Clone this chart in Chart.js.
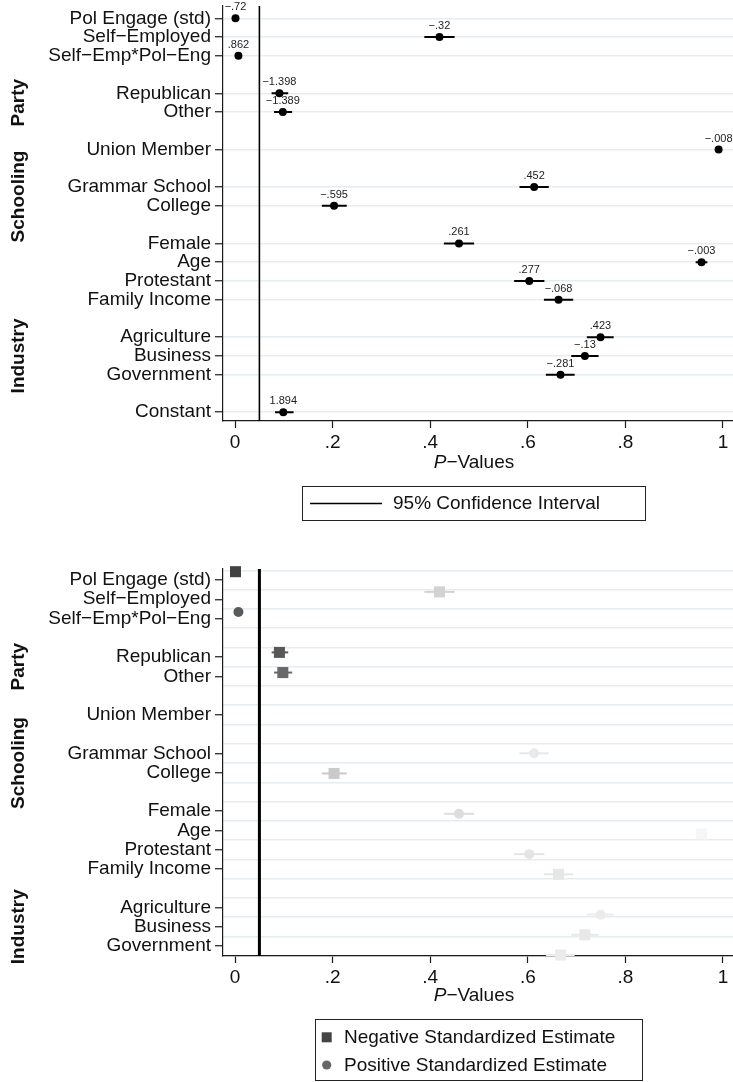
<!DOCTYPE html>
<html>
<head>
<meta charset="utf-8">
<script src="https://cdn.jsdelivr.net/npm/chart.js@4.4.1/dist/chart.umd.min.js"></script>
<style>
html,body{margin:0;padding:0;background:#fff;overflow:hidden;width:733px;height:1082px}
#w1{position:absolute;left:0;top:0;width:733px;height:540px}
#w2{position:absolute;left:0;top:540px;width:733px;height:542px}
canvas{display:block}
</style>
</head>
<body>
<div id="w1"><canvas id="c1" width="733" height="540"></canvas></div>
<div id="w2"><canvas id="c2" width="733" height="542"></canvas></div>
<script>
// ---------------- DATA ----------------
const categories = ['Pol Engage (std)','Self\u2212Employed','Self\u2212Emp*Pol\u2212Eng','','Republican','Other','','Union Member','','Grammar School','College','','Female','Age','Protestant','Family Income','','Agriculture','Business','Government','','Constant'];
const variables = ['Pol Engage (std)','Self\u2212Employed','Self\u2212Emp*Pol\u2212Eng','Republican','Other','Union Member','Grammar School','College','Female','Age','Protestant','Family Income','Agriculture','Business','Government','Constant'];
const pValues   = [0.001, 0.419, 0.007, 0.091, 0.098, 0.991, 0.613, 0.203, 0.459, 0.956, 0.603, 0.663, 0.749, 0.717, 0.667, 0.099];
const ciLow     = [0.000, 0.388, 0.005, 0.075, 0.080, 0.989, 0.583, 0.178, 0.428, 0.944, 0.572, 0.633, 0.721, 0.689, 0.637, 0.082];
const ciHigh    = [0.002, 0.450, 0.009, 0.109, 0.117, 0.993, 0.643, 0.229, 0.490, 0.968, 0.634, 0.693, 0.776, 0.745, 0.696, 0.120];
const estimates = [-0.72, -0.32, 0.862, -1.398, -1.389, -0.008, 0.452, -0.595, 0.261, -0.003, 0.277, -0.068, 0.423, -0.13, -0.281, 1.894];
const xTickValues = [0, 0.2, 0.4, 0.6, 0.8, 1];
const xTickLabels = ['0', '.2', '.4', '.6', '.8', '1'];
const groupNames = ['Party', 'Schooling', 'Industry'];
const groupMembers = [['Republican','Other'], ['Grammar School','College'], ['Agriculture','Business','Government']];
const refLine = [0.05];
const bottomVariables = variables.filter(v => v !== 'Constant');
const bottomCategories = categories.slice(0, categories.indexOf('Constant') - 1);

// ---------------- STYLE ----------------
const bottomShades = ['#424242','#d2d2d2','#5a5a5a','#585858','#686868','#ffffff','#e9e9e9','#cacaca','#dddddd','#f6f6f6','#e4e4e4','#e6e6e6','#ebebeb','#e8e8e8','#ebebeb'];
const GRID = '#e6edf1';
const AXIS = '#1a1a1a';
const TXT = '#111111';
const FONT = '"Liberation Sans", Arial, Helvetica, sans-serif';
const X_MIN = -0.0246, X_MAX = 1.0205;
const TOP_Y = [-0.656, 21.47];
const BOT_Y = [-0.571, 19.52];
const BOT_Y2 = [-0.134, 19.05];

Chart.defaults.font.family = FONT;
Chart.defaults.color = TXT;
Chart.defaults.animation = false;

const rowOf = (name, cats) => cats.indexOf(name);
function fmtEst(v) {
  let s = String(Math.abs(v));
  if (s[0] === '0') s = s.slice(1);
  return (v < 0 ? '\u2212' : '') + s;
}
function ciPoints(names, cats) {
  const pts = [];
  names.forEach((n, i) => {
    const r = rowOf(n, cats);
    pts.push({x: ciLow[i], y: r}, {x: ciHigh[i], y: r}, {x: null, y: null});
  });
  return pts;
}
function xScaleOpts(h) {
  return {
    type: 'linear', min: X_MIN, max: X_MAX,
    afterBuildTicks: s => { s.ticks = xTickValues.map(v => ({value: v})); },
    ticks: { autoSkip: false, maxRotation: 0, minRotation: 0, padding: 3, color: TXT, font: {size: 19},
      callback: v => xTickLabels[xTickValues.indexOf(v)] },
    grid: { drawOnChartArea: false, drawTicks: true, tickLength: 7, tickColor: AXIS, tickWidth: 1.2 },
    border: { display: true, color: AXIS, width: 1.2 },
    afterFit: s => { s.height = h; s.paddingLeft = 0; s.paddingRight = 0; }
  };
}
function drawXTitle(chart, cx, cy) {
  const ctx = chart.ctx;
  ctx.save();
  ctx.fillStyle = TXT; ctx.textBaseline = 'middle'; ctx.textAlign = 'left';
  const fi = 'italic 19px ' + FONT, fn = '19px ' + FONT;
  ctx.font = fi; const w1 = ctx.measureText('P').width;
  ctx.font = fn; const w2 = ctx.measureText('\u2212Values').width;
  const x = cx - (w1 + w2) / 2;
  ctx.font = fi; ctx.fillText('P', x, cy);
  ctx.font = fn; ctx.fillText('\u2212Values', x + w1, cy);
  ctx.restore();
}
function drawGroups(chart, scaleId, cats) {
  const sc = chart.scales[scaleId];
  const ctx = chart.ctx;
  ctx.save();
  ctx.font = 'bold 19px ' + FONT; ctx.fillStyle = TXT; ctx.textAlign = 'center'; ctx.textBaseline = 'middle';
  groupNames.forEach((g, k) => {
    const ys = groupMembers[k].map(n => sc.getPixelForValue(rowOf(n, cats)));
    const y = ys.reduce((a, b) => a + b, 0) / ys.length;
    ctx.save(); ctx.translate(19, y); ctx.rotate(-Math.PI / 2); ctx.fillText(g, 0, 0); ctx.restore();
  });
  ctx.restore();
}

// ---------------- TOP CHART ----------------
new Chart(document.getElementById('c1'), {
  type: 'scatter',
  data: {
    datasets: [
      { label: 'P-values', data: variables.map((n, i) => ({x: pValues[i], y: rowOf(n, categories)})),
        pointRadius: 4, pointHoverRadius: 4, backgroundColor: '#000', borderWidth: 0, clip: false },
      { label: '95% Confidence Interval', data: ciPoints(variables, categories), showLine: true, spanGaps: false,
        borderColor: '#000', borderWidth: 2, pointRadius: 0, pointHoverRadius: 0 },
      { label: 'ref', data: [{x: refLine[0], y: TOP_Y[0]}, {x: refLine[0], y: TOP_Y[1]}], showLine: true,
        borderColor: '#000', borderWidth: 1.6, pointRadius: 0, pointHoverRadius: 0 }
    ]
  },
  options: {
    responsive: false, maintainAspectRatio: false,
    layout: { autoPadding: false, padding: { top: 6, left: 0, right: 0, bottom: 0 } },
    plugins: { legend: { display: false }, tooltip: { enabled: false } },
    scales: {
      x: xScaleOpts(119),
      y: {
        type: 'linear', reverse: true, min: TOP_Y[0], max: TOP_Y[1],
        afterBuildTicks: s => { s.ticks = categories.map((c, i) => ({value: i})); },
        ticks: { autoSkip: false, padding: 4, color: TXT, font: {size: 19}, callback: v => categories[v] },
        grid: {
          color: c => (c.tick && categories[c.tick.value]) ? GRID : 'rgba(0,0,0,0)',
          lineWidth: 1.5, drawTicks: true, tickLength: 8, tickWidth: 1.2,
          tickColor: c => (c.tick && categories[c.tick.value]) ? AXIS : 'rgba(0,0,0,0)'
        },
        border: { display: true, color: AXIS, width: 1.2 },
        afterFit: s => { s.width = 223; s.paddingTop = 0; s.paddingBottom = 0; }
      }
    }
  },
  plugins: [{
    id: 'topExtras',
    afterDatasetsDraw(chart) {
      const ctx = chart.ctx;
      const meta = chart.getDatasetMeta(0);
      ctx.save();
      ctx.font = '11px ' + FONT; ctx.fillStyle = '#222'; ctx.textAlign = 'center'; ctx.textBaseline = 'middle';
      meta.data.forEach((pt, i) => ctx.fillText(fmtEst(estimates[i]), pt.x, pt.y - 11));
      ctx.restore();
    },
    afterDraw(chart) {
      drawGroups(chart, 'y', categories);
      drawXTitle(chart, 474, 463);
      const ctx = chart.ctx;
      ctx.save();
      ctx.strokeStyle = '#222'; ctx.lineWidth = 1;
      ctx.strokeRect(302.5, 486.5, 343, 34);
      ctx.strokeStyle = '#000'; ctx.lineWidth = 1.6;
      ctx.beginPath(); ctx.moveTo(310, 503.5); ctx.lineTo(382, 503.5); ctx.stroke();
      ctx.fillStyle = TXT; ctx.font = '19px ' + FONT; ctx.textAlign = 'left'; ctx.textBaseline = 'middle';
      ctx.fillText(chart.data.datasets[1].label, 393, 504);
      ctx.restore();
    }
  }]
});

// ---------------- BOTTOM CHART ----------------
const isNeg = i => estimates[i] < 0;
new Chart(document.getElementById('c2'), {
  type: 'scatter',
  data: {
    datasets: [
      { label: 'points', yAxisID: 'y2',
        data: bottomVariables.map((n, i) => ({x: pValues[i], y: rowOf(n, bottomCategories)})),
        pointStyle: c => isNeg(c.dataIndex) ? 'rect' : 'circle',
        pointRadius: c => isNeg(c.dataIndex) ? 7.8 : 5,
        pointHoverRadius: c => isNeg(c.dataIndex) ? 7.8 : 5,
        backgroundColor: c => bottomShades[c.dataIndex], borderWidth: 0, clip: false },
      { label: 'ci', yAxisID: 'y2', data: ciPoints(bottomVariables, bottomCategories), showLine: true, spanGaps: false,
        borderWidth: 2, pointRadius: 0, pointHoverRadius: 0, borderColor: '#999',
        segment: { borderColor: c => bottomShades[Math.floor(c.p0DataIndex / 3)] } },
      { label: 'ref', yAxisID: 'y2', data: [{x: refLine[0], y: BOT_Y2[0]}, {x: refLine[0], y: BOT_Y2[1]}], showLine: true,
        borderColor: '#000', borderWidth: 3, pointRadius: 0, pointHoverRadius: 0 }
    ]
  },
  options: {
    responsive: false, maintainAspectRatio: false,
    layout: { autoPadding: false, padding: { top: 29, left: 0, right: 0, bottom: 0 } },
    plugins: { legend: { display: false }, tooltip: { enabled: false } },
    scales: {
      x: xScaleOpts(126),
      y: {
        type: 'linear', reverse: true, min: BOT_Y[0], max: BOT_Y[1], position: 'left',
        afterBuildTicks: s => {
          const t = [];
          for (let v = -0.5; v <= BOT_Y[1]; v += 0.5) t.push({value: v});
          s.ticks = t;
        },
        ticks: { autoSkip: false, padding: 4, color: TXT, font: {size: 19},
          callback: v => Number.isInteger(v) ? (bottomCategories[v] || '') : '' },
        grid: {
          color: c => (c.tick && !Number.isInteger(c.tick.value)) ? GRID : 'rgba(0,0,0,0)',
          lineWidth: 1.5, drawTicks: true, tickLength: 8, tickWidth: 1.2,
          tickColor: c => (c.tick && Number.isInteger(c.tick.value) && bottomCategories[c.tick.value]) ? AXIS : 'rgba(0,0,0,0)'
        },
        border: { display: true, color: AXIS, width: 1.2 },
        afterFit: s => { s.width = 223; s.paddingTop = 0; s.paddingBottom = 0; }
      },
      y2: { type: 'linear', reverse: true, min: BOT_Y2[0], max: BOT_Y2[1], display: false, position: 'left' }
    }
  },
  plugins: [{
    id: 'bottomExtras',
    afterDraw(chart) {
      drawGroups(chart, 'y', bottomCategories);
      drawXTitle(chart, 474, 456);
      const ctx = chart.ctx;
      ctx.save();
      ctx.strokeStyle = '#222'; ctx.lineWidth = 1;
      ctx.strokeRect(315.5, 479.5, 327, 61);
      ctx.fillStyle = '#444444';
      ctx.fillRect(321.7, 492.3, 10, 10);
      ctx.fillStyle = '#666666';
      ctx.beginPath(); ctx.arc(326.7, 525, 4.6, 0, Math.PI * 2); ctx.fill();
      ctx.fillStyle = TXT; ctx.font = '19px ' + FONT; ctx.textAlign = 'left'; ctx.textBaseline = 'middle';
      ctx.fillText('Negative Standardized Estimate', 344, 497.5);
      ctx.fillText('Positive Standardized Estimate', 344, 525.5);
      ctx.restore();
    }
  }]
});
</script>
</body>
</html>
